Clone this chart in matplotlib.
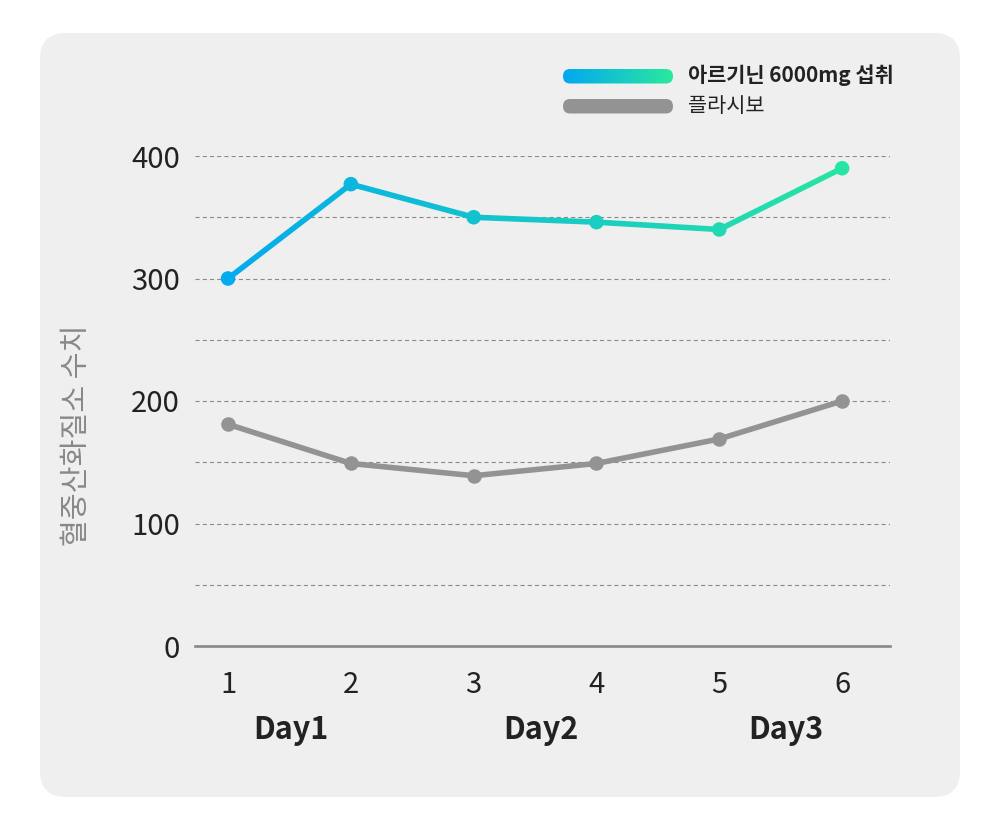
import matplotlib
matplotlib.use("Agg")
import matplotlib.pyplot as plt
import numpy as np
from matplotlib.patches import FancyBboxPatch, Polygon
from matplotlib.colors import LinearSegmentedColormap, Normalize

plt.rcParams['font.family'] = ['Noto Sans CJK KR', 'DejaVu Sans']
plt.rcParams['lines.scale_dashes'] = False

# ---- data ----
x_vals = [1, 2, 3, 4, 5, 6]
arginine = [300, 377, 350, 346, 340, 390]
placebo = [181, 149, 139, 149, 169, 200]
y_ticks = [0, 100, 200, 300, 400]
y_minor = [50, 150, 250, 350]
day_labels = ['Day1', 'Day2', 'Day3']
day_pos = [1.51, 3.55, 5.54]
series_names = ['아르기닌 6000mg 섭취', '플라시보']
y_label = '혈중산화질소 수치'

grad_cmap = LinearSegmentedColormap.from_list('g', ['#02a8f2', '#2ae99d'])
grey = '#939393'
dark = '#222222'

fig = plt.figure(figsize=(10, 8.32), dpi=100)
fig.patch.set_facecolor('white')

# background panel in pixel coords
bg = fig.add_axes([0, 0, 1, 1], zorder=-10)
bg.set_xlim(0, 1000)
bg.set_ylim(832, 0)
bg.axis('off')
panel = FancyBboxPatch((40, 33), 920, 764, boxstyle="round,pad=0,rounding_size=26",
                       fc='#efefef', ec='none')
bg.add_patch(panel)

# legend
grad = np.linspace(0, 1, 256).reshape(1, -1)
bar1 = FancyBboxPatch((563, 69), 110, 14.5, boxstyle="round,pad=0,rounding_size=7.2",
                      fc='none', ec='none')
bg.add_patch(bar1)
im = bg.imshow(grad, extent=(563, 673, 84, 69), cmap=grad_cmap, aspect='auto', zorder=2)
im.set_clip_path(bar1)
bar2 = FancyBboxPatch((563, 99), 110, 14.5, boxstyle="round,pad=0,rounding_size=7.2",
                      fc=grey, ec='none', zorder=2)
bg.add_patch(bar2)
bg.set_xlim(0, 1000)
bg.set_ylim(832, 0)
bg.text(688, 75.5, series_names[0], fontsize=15, fontweight='bold', color=dark,
        va='center', ha='left')
bg.text(688, 105.5, series_names[1], fontsize=15, color=dark, va='center', ha='left')

# main axes
ax = fig.add_axes([0.195, 1 - 646 / 832, 0.695, 490 / 832])
ax.patch.set_visible(False)
xmin, xmax = 0.731, 6.39
ax.set_xlim(xmin, xmax)
ax.set_ylim(0, 400)

ax.set_yticks(y_ticks)
ax.set_yticks(y_minor, minor=True)
ax.set_xticks(x_vals)
ax.tick_params(axis='both', which='both', length=0)
ax.tick_params(axis='y', pad=11, labelsize=21, labelcolor=dark)
ax.tick_params(axis='x', pad=17, labelsize=21, labelcolor=dark)
ax.yaxis.grid(True, which='both', color='#8a8a8a', linewidth=0.8, linestyle=(0, (3, 2.2)))
ax.set_axisbelow(True)
for s in ['top', 'right', 'left']:
    ax.spines[s].set_visible(False)
ax.spines['bottom'].set_color('#888888')
ax.spines['bottom'].set_linewidth(1.9)
ax.spines['bottom'].set_zorder(5)
for gl, t in zip(ax.yaxis.get_gridlines(), y_ticks):
    if t == 0:
        gl.set_visible(False)

# placebo line
ax.plot(x_vals, placebo, color=grey, linewidth=4.0, solid_capstyle='round', zorder=3)
ax.scatter(x_vals, placebo, s=110, color=grey, zorder=4, linewidths=0, clip_on=False)

# arginine line with horizontal gradient
fig.canvas.draw()
disp = ax.transData.transform(np.column_stack([x_vals, arginine]))
inv = ax.transData.inverted()
half_w = 2.8
for i in range(len(x_vals) - 1):
    p0, p1 = disp[i], disp[i + 1]
    d = p1 - p0
    n = np.array([-d[1], d[0]]) / np.hypot(*d) * half_w
    quad = np.array([p0 + n, p1 + n, p1 - n, p0 - n])
    poly = Polygon(inv.transform(quad), closed=True, transform=ax.transData,
                   fc='none', ec='none')
    ax.add_patch(poly)
    gim = ax.imshow(grad, extent=(xmin, xmax, 0, 400), cmap=grad_cmap,
                    aspect='auto', zorder=3, interpolation='bilinear')
    gim.set_clip_path(poly)
norm = Normalize(xmin, xmax)
ax.scatter(x_vals, arginine, s=110, c=grad_cmap(norm(np.array(x_vals))), zorder=4,
           linewidths=0, clip_on=False)
ax.set_xlim(xmin, xmax)
ax.set_ylim(0, 400)

# day labels
for lab, pos in zip(day_labels, day_pos):
    ax.text(pos, -0.171, lab, transform=ax.get_xaxis_transform(), ha='center',
            va='center', fontsize=22, fontweight='bold', color=dark)

# y label
fig.text(0.077, 1 - 435 / 832, y_label, rotation=90, ha='center', va='center',
         fontsize=21, color='#888888')

fig.savefig('out.png', dpi=100)
